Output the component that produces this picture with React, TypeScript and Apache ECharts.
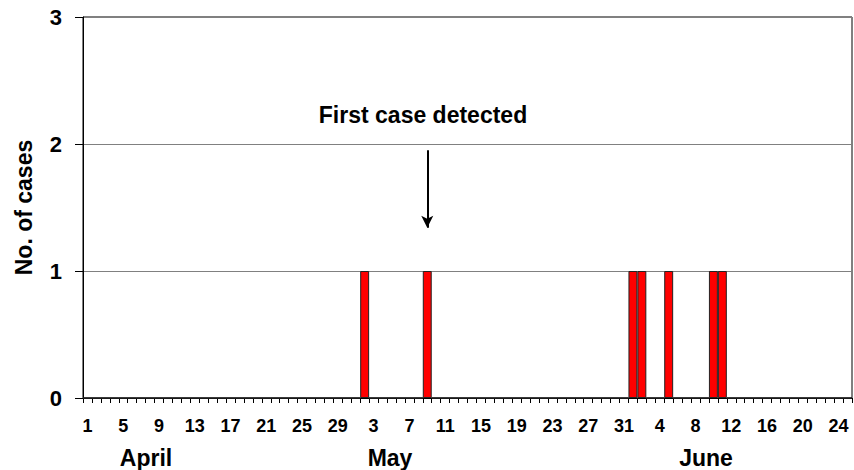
import React, { useEffect, useRef } from "react";
import * as echarts from "echarts";

const months = ["April", "May", "June"];
const monthDays = [30, 31, 25];
const aprilCases = [0,0,0,0,0,0,0,0,0,0, 0,0,0,0,0,0,0,0,0,0, 0,0,0,0,0,0,0,0,0,0];
const mayCases = [0,1,0,0,0,0,0,0,1,0, 0,0,0,0,0,0,0,0,0,0, 0,0,0,0,0,0,0,0,0,0, 0];
const juneCases = [1,1,0,0,1,0,0,0,0,1, 1,0,0,0,0,0,0,0,0,0, 0,0,0,0,0];
const yTicks = [0, 1, 2, 3];
const annotationText = "First case detected";
const arrowDate = "Ma-9";
const arrowFrom = 1.95;
const arrowTo = 1.34;

const categories: string[] = [];
months.forEach((m, i) => {
  for (let d = 1; d <= monthDays[i]; d++) categories.push(m.slice(0, 2) + "-" + d);
});
const cases = [...aprilCases, ...mayCases, ...juneCases];

const FONT = "Liberation Sans, Arial, sans-serif";

export default function App() {
  const ref = useRef<HTMLDivElement>(null);
  useEffect(() => {
    if (!ref.current) return;
    const chart = echarts.init(ref.current, undefined, { renderer: "svg" });
    const bigText = (text: string, x: number, y: number) => ({
      type: "text",
      x,
      y,
      style: {
        text,
        fontSize: 23,
        fontWeight: "bold",
        fill: "#000",
        fontFamily: FONT,
        textAlign: "center",
        textVerticalAlign: "middle",
      },
    });
    chart.setOption({
      animation: false,
      textStyle: { fontFamily: FONT },
      grid: {
        left: 83, right: 2, top: 17, bottom: 72,
        show: true, borderColor: "#000", borderWidth: 1, backgroundColor: "#fff",
      },
      xAxis: {
        type: "category",
        data: categories,
        boundaryGap: true,
        axisLine: { lineStyle: { color: "#000", width: 1 } },
        axisTick: { show: true, interval: 0, length: 5, lineStyle: { color: "#000" } },
        axisLabel: {
          interval: 3,
          margin: 19,
          fontSize: 18,
          fontWeight: "bold",
          color: "#000",
          fontFamily: FONT,
          formatter: (v: string) => v.split("-")[1],
        },
      },
      yAxis: {
        type: "value",
        min: yTicks[0],
        max: yTicks[yTicks.length - 1],
        interval: 1,
        name: "No. of cases",
        nameLocation: "middle",
        nameGap: 48,
        nameRotate: 90,
        nameTextStyle: { fontSize: 23, fontWeight: "bold", color: "#000", fontFamily: FONT },
        axisLine: { show: true, lineStyle: { color: "#000" } },
        axisTick: { show: true, length: 8, lineStyle: { color: "#000" } },
        axisLabel: { fontSize: 22, fontWeight: "bold", color: "#000", margin: 21, fontFamily: FONT },
        splitLine: { show: true, lineStyle: { color: "#808080", width: 1 } },
      },
      series: [
        {
          type: "bar",
          data: cases,
          barCategoryGap: "0%",
          barWidth: "100%",
          itemStyle: { color: "#ff0000", borderColor: "#222", borderWidth: 1 },
          markLine: {
            silent: true,
            symbol: ["none", "arrow"],
            symbolSize: [9, 12],
            label: { show: false },
            lineStyle: { color: "#000", width: 2, type: "solid" },
            data: [[{ coord: [arrowDate, arrowFrom] }, { coord: [arrowDate, arrowTo] }]],
          },
        },
      ],
      graphic: [
        bigText(annotationText, 423, 115),
        bigText(months[0], 146, 458),
        bigText(months[1], 390, 458),
        bigText(months[2], 706, 458),
      ],
    });
    return () => chart.dispose();
  }, []);
  return (
    <div
      ref={ref}
      style={{ position: "fixed", left: 0, top: 0, width: 854, height: 470, background: "#fff" }}
    />
  );
}
